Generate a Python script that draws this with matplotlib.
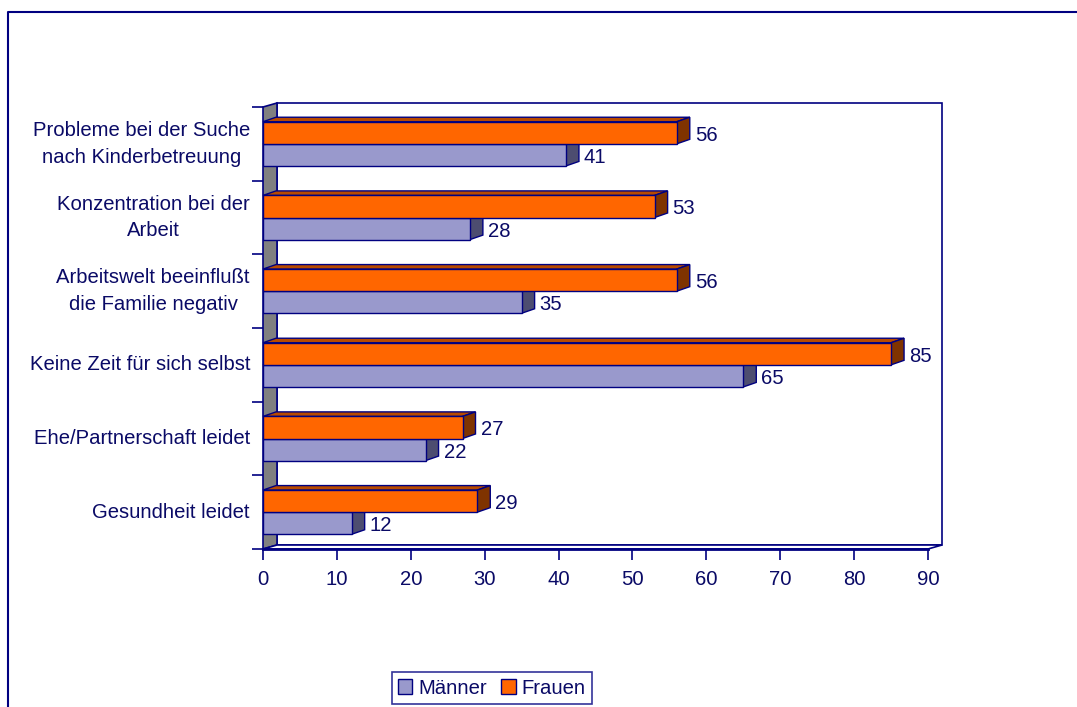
import matplotlib
matplotlib.use("Agg")
import matplotlib.pyplot as plt
from matplotlib.patches import Polygon, Patch
from matplotlib.lines import Line2D
import matplotlib.transforms as mtransforms

plt.rcParams["font.family"] = ["Liberation Sans", "DejaVu Sans"]

categories = ["Gesundheit leidet", "Ehe/Partnerschaft leidet", "Keine Zeit für sich selbst",
              "Arbeitswelt beeinflußt\ndie Familie negativ", "Konzentration bei der\nArbeit",
              "Probleme bei der Suche\nnach Kinderbetreuung"]
maenner = [12, 22, 65, 35, 28, 41]
frauen = [29, 27, 85, 56, 53, 56]
xticks = [0, 10, 20, 30, 40, 50, 60, 70, 80, 90]

NAVY = "#000080"
TXT = "#0A0A66"
FS = 14.6
C_M, C_M_SIDE, C_M_TOP = "#9999CC", "#4D4D70", "#7A7AA8"
C_F, C_F_SIDE, C_F_TOP = "#FF6600", "#7F3300", "#B84A00"

W, H = 1077, 707
fig = plt.figure(figsize=(W / 100, H / 100), dpi=100)
x0, x1, yb, yt = 263, 928, 549, 107
ax = fig.add_axes([x0 / W, (H - yb) / H, (x1 - x0) / W, (yb - yt) / H])
ax.set_xlim(0, 90)
ax.set_ylim(-0.5, 5.5)
for s in ax.spines.values():
    s.set_visible(False)

pxx = 90 / (x1 - x0)          # data units per pixel (x)
pxy = 6 / (yb - yt)           # data units per pixel (y)

# walls / floor
wdx, wdy = 14 * pxx, 4 * pxy
ax.add_patch(Polygon([(wdx, -0.5 + wdy), (90 + wdx, -0.5 + wdy), (90 + wdx, 5.5 + wdy),
                      (wdx, 5.5 + wdy)], closed=True, facecolor="white", edgecolor=NAVY,
                     lw=1.2, clip_on=False, zorder=1))
ax.add_patch(Polygon([(0, -0.5), (wdx, -0.5 + wdy), (wdx, 5.5 + wdy), (0, 5.5)], closed=True,
                     facecolor="#808080", edgecolor=NAVY, lw=1.2, clip_on=False, zorder=2))
ax.add_patch(Polygon([(0, -0.5), (90, -0.5), (90 + wdx, -0.5 + wdy), (wdx, -0.5 + wdy)],
                     closed=True, facecolor="white", edgecolor=NAVY, lw=1.2, clip_on=False, zorder=2))
ax.plot([0, 90], [-0.5, -0.5], color=NAVY, lw=2, clip_on=False, zorder=3)

# bars
bh = 0.3
bdx, bdy = 13 * pxx, 4.5 * pxy
def bar3d(y, v, fc, side, top):
    yl, yh = y - bh / 2, y + bh / 2
    ax.add_patch(Polygon([(0, yh), (v, yh), (v + bdx, yh + bdy), (bdx, yh + bdy)], closed=True,
                         facecolor=top, edgecolor=NAVY, lw=1, zorder=4, clip_on=False))
    ax.add_patch(Polygon([(v, yl), (v + bdx, yl + bdy), (v + bdx, yh + bdy), (v, yh)], closed=True,
                         facecolor=side, edgecolor=NAVY, lw=1, zorder=4, clip_on=False))
    ax.barh(y, v, height=bh, color=fc, edgecolor=NAVY, lw=1, zorder=5)
    ax.text(v + bdx + 5 * pxx, y - 2.5 * pxy, f"{v}", color=TXT, fontsize=FS,
            ha="left", va="center", zorder=6)

for i in range(len(categories)):
    bar3d(i - 0.15, maenner[i], C_M, C_M_SIDE, C_M_TOP)
    bar3d(i + 0.15, frauen[i], C_F, C_F_SIDE, C_F_TOP)

ax.set_xticks(xticks)
ax.tick_params(axis="x", direction="out", length=8, width=1.2, color=NAVY, labelcolor=TXT,
               labelsize=FS, pad=7)
ax.set_yticks([k - 0.5 for k in range(7)])
ax.set_yticklabels([])
ax.tick_params(axis="y", direction="out", length=8, width=1.2, color=NAVY)

lab_tr = mtransforms.offset_copy(ax.transData, fig=fig, x=-13, y=0, units="dots")
for i, c in enumerate(categories):
    ax.text(0, i, c, transform=lab_tr, ha="right", va="center", multialignment="center",
            color=TXT, fontsize=FS, linespacing=1.5)

handles = [Patch(facecolor=C_M, edgecolor=NAVY, label="Männer"),
           Patch(facecolor=C_F, edgecolor=NAVY, label="Frauen")]
leg = fig.legend(handles=handles, loc="center", bbox_to_anchor=(492 / W, 1 - 688 / H), ncol=2,
                 frameon=True, fancybox=False, edgecolor=NAVY, fontsize=FS,
                 handlelength=0.7, handleheight=0.7, handletextpad=0.3, columnspacing=0.7,
                 borderpad=0.3)
for t in leg.get_texts():
    t.set_color(TXT)
leg.get_frame().set_linewidth(1.2)

fig.add_artist(Line2D([8 / W, 8 / W, 1.0], [0, 1 - 12 / H, 1 - 12 / H], color=NAVY, lw=1.5,
                      transform=fig.transFigure))

fig.savefig("out.png", dpi=100)
